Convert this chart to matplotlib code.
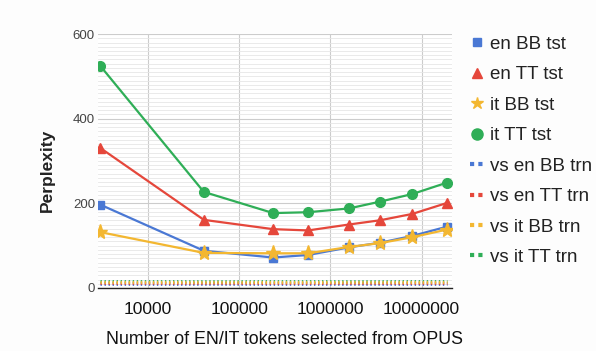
import matplotlib.pyplot as plt
from matplotlib.lines import Line2D
from matplotlib.ticker import FixedLocator, NullFormatter, NullLocator

# tokens selected from OPUS (x) and perplexities
tokens = [3000, 41000, 236000, 570000, 1600000, 3500000, 7900000, 19000000]
en_bb_tst = [197, 88, 72, 78, 96, 107, 123, 145]
en_tt_tst = [331, 161, 139, 136, 150, 160, 175, 201]
it_bb_tst = [132, 83, 82, 82, 97, 106, 120, 138]
it_tt_tst = [525, 227, 177, 179, 188, 204, 222, 249]
en_bb_trn = [9] * 8
en_tt_trn = [12] * 8
it_bb_trn = [15] * 8
it_tt_trn = [17] * 8

blue = '#4a78d4'
red = '#e5473b'
yellow = '#f3b731'
green = '#2fae57'

plt.rcParams['font.family'] = ['Liberation Sans', 'DejaVu Sans']

fig = plt.figure(figsize=(5.96, 3.51), dpi=100)
fig.patch.set_facecolor('#fdfdfd')
ax = fig.add_axes([0.164, 0.1795, 0.594, 0.7235])

# training perplexities: dense dotted lines hugging the x axis
dash = (0, (0.5, 0.95))
ax.plot(tokens, en_bb_trn, color=blue, lw=2, ls=dash, dash_capstyle='butt')
ax.plot(tokens, en_tt_trn, color=red, lw=2, ls=dash, dash_capstyle='butt')
ax.plot(tokens, it_tt_trn, color=green, lw=2, ls=dash, dash_capstyle='butt')
ax.plot(tokens, it_bb_trn, color=yellow, lw=2, ls=dash, dash_capstyle='butt')

ax.plot(tokens, en_bb_tst, color=blue, lw=1.6, marker='s', ms=6)
ax.plot(tokens, en_tt_tst, color=red, lw=1.6, marker='^', ms=7)
ax.plot(tokens, it_tt_tst, color=green, lw=1.6, marker='o', ms=7)
ax.plot(tokens, it_bb_tst, color=yellow, lw=1.6, marker='*', ms=11)

ax.set_xscale('log')
ax.set_xlim(2820, 2.14e7)
ax.set_ylim(0, 600)
ax.xaxis.set_major_locator(FixedLocator([1e4, 1e5, 1e6, 1e7]))
ax.xaxis.set_minor_locator(NullLocator())
ax.set_xticklabels(['10000', '100000', '1000000', '10000000'])
ax.set_yticks([0, 200, 400, 600])
ax.set_yticks(range(0, 601, 10), minor=True)
ax.yaxis.set_minor_formatter(NullFormatter())

ax.grid(True, axis='y', which='minor', color='#e6e6e6', lw=0.6)
ax.grid(True, axis='y', which='major', color='#cccccc', lw=0.8)
ax.grid(True, axis='x', which='major', color='#cccccc', lw=0.8)
ax.set_axisbelow(True)

for s in ['top', 'right', 'left']:
    ax.spines[s].set_visible(False)
ax.spines['bottom'].set_color('#222222')
ax.spines['bottom'].set_linewidth(1.0)
ax.tick_params(axis='both', which='both', length=0)
ax.tick_params(axis='x', labelsize=12.5, colors='#111111', pad=10)
ax.tick_params(axis='y', labelsize=9.5, labelcolor='#444444', pad=2)

ax.set_xlabel('Number of EN/IT tokens selected from OPUS', fontsize=12.8,
              color='#111111')
ax.xaxis.set_label_coords(0.528, -0.17)
ax.set_ylabel('Perplexity', fontsize=12.5, fontweight='bold', color='#222222')
ax.yaxis.set_label_coords(-0.12, 0.465)

handles = [
    Line2D([], [], color=blue, marker='s', ms=6, ls='none'),
    Line2D([], [], color=red, marker='^', ms=7, ls='none'),
    Line2D([], [], color=yellow, marker='*', ms=9, ls='none'),
    Line2D([], [], color=green, marker='o', ms=8, ls='none'),
    Line2D([], [], color=blue, lw=3, ls=(0, (1, 1))),
    Line2D([], [], color=red, lw=3, ls=(0, (1, 1))),
    Line2D([], [], color=yellow, lw=3, ls=(0, (1, 1))),
    Line2D([], [], color=green, lw=3, ls=(0, (1, 1))),
]
labels = ['en BB tst', 'en TT tst', 'it BB tst', 'it TT tst',
          'vs en BB trn', 'vs en TT trn', 'vs it BB trn', 'vs it TT trn']
fig.legend(handles, labels, loc='upper left', bbox_to_anchor=(0.76, 0.946),
           frameon=False, fontsize=13.5, handlelength=0.8, handletextpad=0.3,
           labelspacing=0.71, labelcolor='#222222')

fig.savefig('out.png', dpi=100, facecolor=fig.get_facecolor())
